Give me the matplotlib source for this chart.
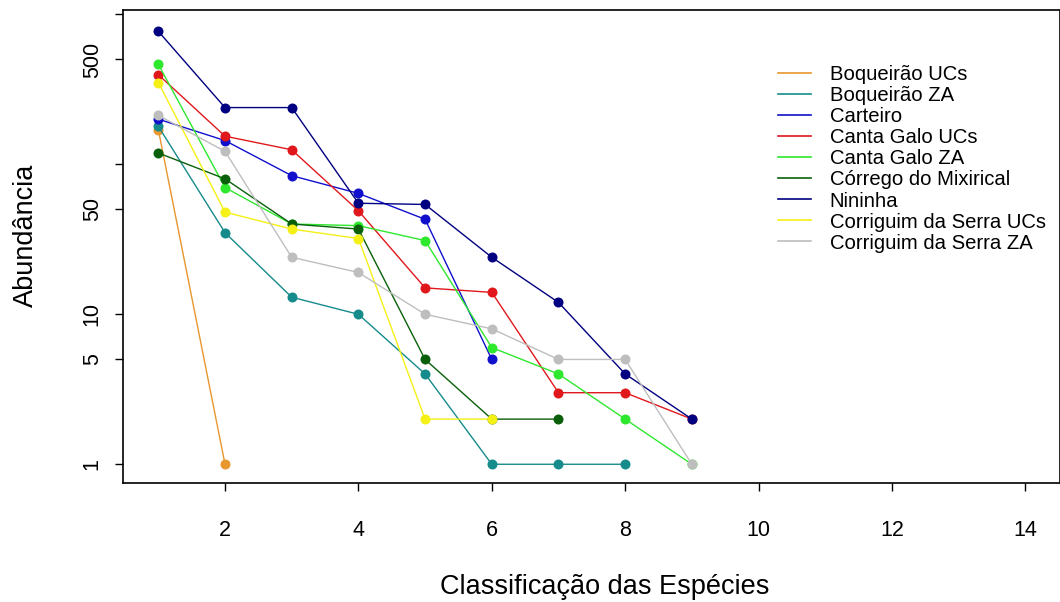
import matplotlib
matplotlib.use("Agg")
import matplotlib.pyplot as plt
from matplotlib.lines import Line2D

plt.rcParams['font.family'] = ['Liberation Sans', 'DejaVu Sans']

series_names = ["Boqueirão UCs", "Boqueirão ZA", "Carteiro", "Canta Galo UCs",
                "Canta Galo ZA", "Córrego do Mixirical", "Nininha",
                "Corriguim da Serra UCs", "Corriguim da Serra ZA"]
boqueirao_ucs = [170, 1]
boqueirao_za = [179, 35, 13, 10, 4, 1, 1, 1]
carteiro = [200, 144, 84, 64, 43, 5]
canta_galo_ucs = [396, 154, 125, 49, 15, 14, 3, 3, 2]
canta_galo_za = [464, 70, 40, 39, 31, 6, 4, 2, 1]
corrego_mixirical = [119, 80, 40, 37, 5, 2, 2]
nininha = [770, 239, 239, 55, 54, 24, 12, 4, 2]
corriguim_ucs = [351, 48, 37, 32, 2, 2]
corriguim_za = [212, 122, 24, 19, 10, 8, 5, 5, 1]
all_series = [boqueirao_ucs, boqueirao_za, carteiro, canta_galo_ucs, canta_galo_za,
              corrego_mixirical, nininha, corriguim_ucs, corriguim_za]
colors = ["#E8962E", "#168B8B", "#1010CD", "#E0181C", "#2EE82E",
          "#0A600A", "#000080", "#F5F015", "#BEBEBE"]

x_ticks = [2, 4, 6, 8, 10, 12, 14]
y_ticks = [1, 5, 10, 50, 100, 500, 1000]
y_tick_labels = ["1", "5", "10", "50", "", "500", ""]

fig = plt.figure(figsize=(10.6, 6.02), dpi=100)
ax = fig.add_axes([123/1060, 1 - 483/602, (1060 - 123)/1060, (483 - 10)/602])

for name, vals, c in zip(series_names, all_series, colors):
    xs = list(range(1, len(vals) + 1))
    ax.plot(xs, vals, color=c, lw=1.0, marker='o', markersize=7.2,
            markeredgewidth=0, label=name)

ax.set_yscale('log')
ax.set_xlim(0.47, 14.52)
ax.set_ylim(0.75, 1069)
ax.set_xticks(x_ticks)
ax.set_xticklabels([str(t) for t in x_ticks])
ax.set_yticks(y_ticks)
ax.set_yticklabels(y_tick_labels, rotation=90, va='center')
ax.minorticks_off()
ax.tick_params(axis='both', direction='out', length=5.5, width=1, labelsize=15.5)
ax.tick_params(axis='x', pad=21)
ax.tick_params(axis='y', pad=9)
for s in ax.spines.values():
    s.set_linewidth(1.2)

ax.set_xlabel("Classificação das Espécies", fontsize=19.5)
ax.xaxis.set_label_coords(0.514, -0.1924)
ax.set_ylabel("Abundância", fontsize=19.5)
ax.yaxis.set_label_coords(-0.0896, 0.524)

handles = [Line2D([0], [0], color=c, lw=1.2) for c in colors]
ax.legend(handles, series_names, loc='upper left', bbox_to_anchor=(0.699, 0.883),
          frameon=False, fontsize=14.6, handlelength=1.65, handletextpad=0.9,
          labelspacing=0.10, borderpad=0, borderaxespad=0)

fig.savefig("out.png", dpi=100)
